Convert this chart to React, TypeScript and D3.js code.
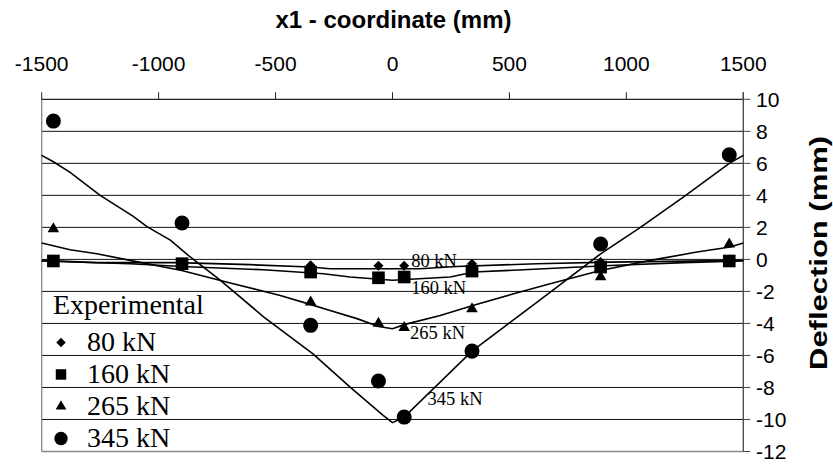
import React from "react";
import * as d3 from "d3";

const xTicks = [-1500, -1000, -500, 0, 500, 1000, 1500];
const yTicks = [10, 8, 6, 4, 2, 0, -2, -4, -6, -8, -10, -12];

// Experimental points
const expX = [-1450, -900, -350, -60, 50, 340, 890, 1440];
const exp80 = [0, -0.2, -0.37, -0.4, -0.4, -0.27, -0.17, 0];
const exp160 = [-0.1, -0.27, -0.79, -1.15, -1.1, -0.73, -0.48, -0.1];
const exp265 = [1.9, -0.3, -2.67, -4.0, -4.27, -3.1, -1.1, 0.95];
const exp345 = [8.64, 2.27, -4.12, -7.6, -9.85, -5.73, 0.96, 6.54];

// Model curves
const model80X = [-1500, -1264, -922, -609, -352, -267, 118, 275, 618, 931, 1500];
const model80 = [-0.06, -0.2, -0.2, -0.33, -0.48, -0.58, -0.58, -0.44, -0.27, -0.17, -0.06];
const model160X = [-1500, -1122, -901, -552, -295, -181, 0, 247, 347, 560, 931, 1245, 1500];
const model160 = [-0.1, -0.27, -0.44, -0.65, -0.9, -1.1, -1.3, -1.1, -0.79, -0.65, -0.38, -0.2, -0.1];
const model265X = [-1500, -1379, -1264, -1122, -901, -694, -480, -352, -267, -152, -60, 0, 54, 204, 347, 518, 674, 889, 1103, 1302, 1444, 1500];
const model265 = [1.02, 0.6, 0.35, -0.06, -0.69, -1.48, -2.25, -2.81, -3.19, -3.7, -4.19, -4.33, -4.06, -3.5, -2.87, -2.15, -1.52, -0.69, -0.06, 0.46, 0.77, 1.02];
const model345X = [-1500, -1450, -1380, -1250, -1110, -1050, -950, -865, -737, -550, -340, -180, -40, 0, 50, 340, 570, 675, 890, 1060, 1245, 1440, 1500];
const model345 = [6.5, 6.1, 5.45, 4.0, 2.7, 2.05, 1.2, 0.15, -1.3, -3.6, -5.9, -8.0, -9.75, -10.2, -9.85, -5.73, -3.2, -2.05, 0.35, 2.0, 3.9, 6.0, 6.5];

const lineLabels = ["80 kN", "160 kN", "265 kN", "345 kN"];
const lineLabelX = [80, 80, 75, 150];
const lineLabelY = [-0.45, -2.15, -4.95, -9.1];

const legendTitle = "Experimental";
const legendNames = ["80 kN", "160 kN", "265 kN", "345 kN"];

export default function App() {
  const W = 833, H = 466;
  const x = d3.scaleLinear().domain([-1500, 1500]).range([41.7, 743.3]);
  const y = d3.scaleLinear().domain([10, -12]).range([99.3, 451.5]);

  const models = [
    { xs: model80X, ys: model80 },
    { xs: model160X, ys: model160 },
    { xs: model265X, ys: model265 },
    { xs: model345X, ys: model345 },
  ];
  const line = d3.line<[number, number]>().x((d) => x(d[0])).y((d) => y(d[1]));

  const symTypes = [d3.symbolSquare, d3.symbolSquare, d3.symbolTriangle, d3.symbolCircle];
  const symSizes = [50, 160, 58, 177];
  const symRot = [45, 0, 0, 0];
  const legSizes = [45, 110, 50, 140];
  const expSeries = [exp80, exp160, exp265, exp345];

  const sym = (i: number, size: number) => d3.symbol().type(symTypes[i]).size(size)() as string;

  const legendRowsY = [-5, -7, -9, -11];

  return (
    <svg width={W} height={H} style={{ position: "absolute", left: 0, top: 0, background: "#fff" }}>
      {/* gridlines */}
      {yTicks.filter((t) => t < 10 && t > -12).map((t) => (
        <line key={"g" + t} x1={x(-1500)} x2={x(1500)} y1={y(t)} y2={y(t)} stroke="#111" strokeWidth={1} />
      ))}
      {/* left & bottom border */}
      <line x1={x(-1500)} x2={x(-1500)} y1={y(10)} y2={y(-12)} stroke="#888" strokeWidth={1.3} />
      <line x1={x(-1500)} x2={x(1500)} y1={y(-12)} y2={y(-12)} stroke="#888" strokeWidth={1.3} />
      {/* top axis */}
      <line x1={x(-1500)} x2={x(1500)} y1={y(10)} y2={y(10)} stroke="#222" strokeWidth={1.2} />
      {xTicks.map((t) => (
        <g key={"xt" + t}>
          <line x1={x(t)} x2={x(t)} y1={y(10)} y2={y(10) - 7} stroke="#222" strokeWidth={1} />
          <text x={x(t)} y={71} textAnchor="middle" fontFamily="Liberation Sans, Arial" fontSize={21} fill="#000">
            {t}
          </text>
        </g>
      ))}
      <text x={393.5} y={28} textAnchor="middle" fontFamily="Liberation Sans, Arial" fontWeight="bold" fontSize={23}
        textLength={236} lengthAdjust="spacingAndGlyphs" fill="#000">
        x1 - coordinate (mm)
      </text>
      {/* right axis */}
      <line x1={x(1500)} x2={x(1500)} y1={y(10) - 7} y2={y(-12)} stroke="#444" strokeWidth={1.3} />
      {yTicks.map((t) => (
        <g key={"yt" + t}>
          <line x1={x(1500)} x2={x(1500) + 7} y1={y(t)} y2={y(t)} stroke="#444" strokeWidth={1} />
          <text x={756} y={y(t)} dominantBaseline="central" fontFamily="Liberation Sans, Arial" fontSize={21} fill="#000">
            {t}
          </text>
        </g>
      ))}
      <text
        transform={`translate(819,${253}) rotate(-90)`}
        textAnchor="middle"
        dominantBaseline="central"
        fontFamily="Liberation Sans, Arial"
        fontWeight="bold"
        fontSize={23}
        textLength={234}
        lengthAdjust="spacingAndGlyphs"
        fill="#000"
      >
        Deflection (mm)
      </text>

      {/* model lines */}
      {models.map((m, i) => (
        <path
          key={"m" + i}
          d={line(m.xs.map((v, k) => [v, m.ys[k]] as [number, number])) as string}
          fill="none"
          stroke="#000"
          strokeWidth={1.6}
        />
      ))}

      {/* experimental markers */}
      {expSeries.map((s, i) =>
        s.map((v, k) => (
          <path
            key={"e" + i + "-" + k}
            d={sym(i, symSizes[i])}
            transform={`translate(${x(expX[k])},${y(v)}) rotate(${symRot[i]})`}
            fill="#000"
          />
        ))
      )}

      {/* line labels */}
      {lineLabels.map((l, i) => (
        <text key={"ll" + i} x={x(lineLabelX[i])} y={y(lineLabelY[i])} fontFamily="Liberation Serif, Times New Roman" fontSize={18.5} fill="#000">
          {l}
        </text>
      ))}

      {/* legend */}
      <text x={53} y={314} fontFamily="Liberation Serif, Times New Roman" fontSize={28} fill="#000">
        {legendTitle}
      </text>
      {legendNames.map((n, i) => (
        <g key={"lg" + i}>
          <path
            d={sym(i, legSizes[i])}
            transform={`translate(61,${y(legendRowsY[i]) + 3}) rotate(${symRot[i]})`}
            fill="#000"
          />
          <text x={87} y={y(legendRowsY[i]) + 12} fontFamily="Liberation Serif, Times New Roman" fontSize={28} fill="#000">
            {n}
          </text>
        </g>
      ))}
    </svg>
  );
}
